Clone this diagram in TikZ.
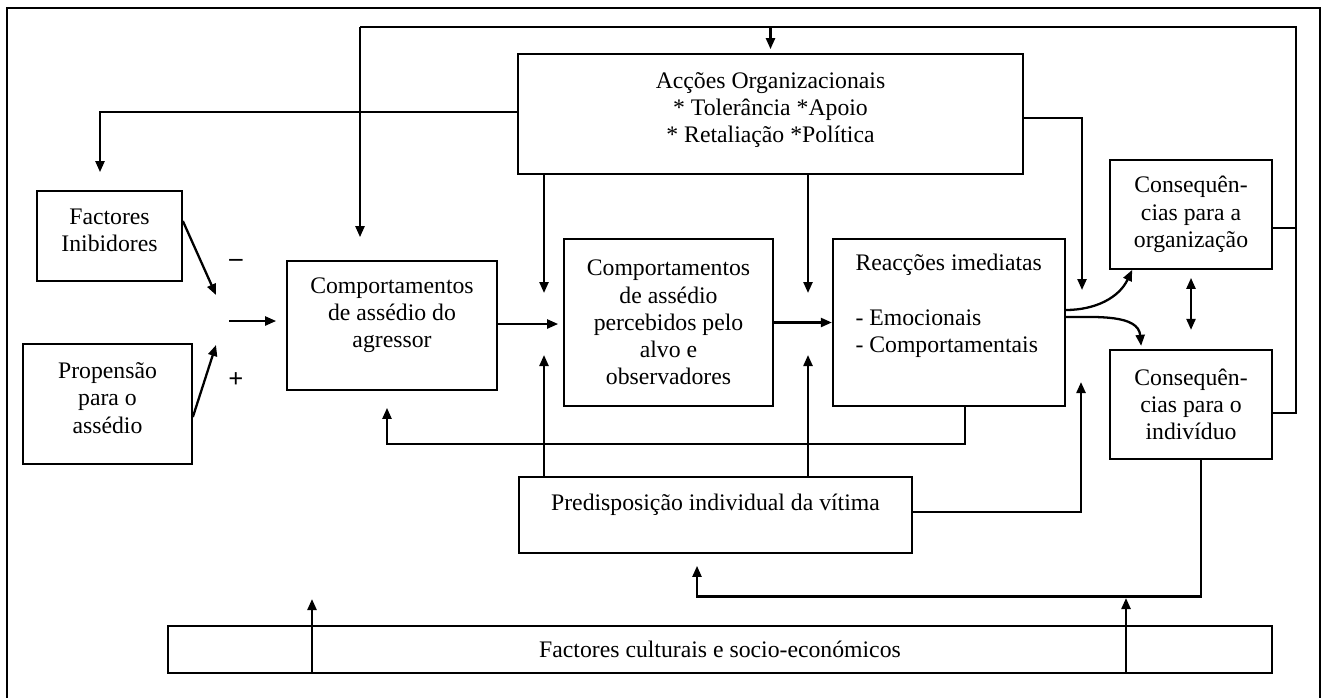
\documentclass[tikz,border=0pt]{standalone}
\usepackage{fontspec}
\setmainfont{Liberation Serif}
\usetikzlibrary{arrows.meta,positioning}

\begin{document}
\begin{tikzpicture}[
    x=0.02cm, y=-0.02cm,
    font=\fontsize{13.5}{15.5}\selectfont,
    box/.style={rectangle, draw, line width=1pt, align=center, inner sep=2pt},
    arrow/.style={line width=1.3pt, ->, >={Triangle[length=2.2mm, width=1.8mm]}},
    link/.style={line width=1.3pt},
    sign/.style={font=\fontsize{15}{17}\selectfont\bfseries, inner sep=0pt}
  ]

  \useasboundingbox (0,0) rectangle (1324,697);
  \draw[line width=1pt] (7,8) rectangle (1320,712);

  % Organizational actions (top)
  \node[box, minimum width=10.1cm, minimum height=2.4cm, text depth=7.5pt] (acoes) at (770.5,114)
    {Acções Organizacionais\\ * Tolerância *Apoio\\ * Retaliação *Política};

  % Antecedents (left side)
  \node[box, minimum width=2.9cm, minimum height=1.8cm, text depth=7pt] (inib) at (109.5,236) {Factores\\ Inibidores};
  \node[box, minimum width=3.38cm, minimum height=2.4cm, text depth=7pt] (prop) at (107.5,404) {Propensão\\ para o\\ assédio};

  % Main chain
  \node[box, minimum width=4.2cm, minimum height=2.58cm, text depth=14.8pt] (agressor) at (392,325.5)
    {Comportamentos\\ de assédio do\\ agressor};
  \node[box, minimum width=4.18cm, minimum height=3.34cm] (percebidos) at (668.5,322.5)
    {Comportamentos\\ de assédio\\ percebidos pelo\\ alvo e\\ observadores};
  \node[box, align=left, minimum width=4.64cm, minimum height=3.34cm, text depth=21.6pt, right=1.16cm of percebidos] (reac)
    {Reacções imediatas\\[15.5pt] - Emocionais\\ - Comportamentais};

  % Consequences (right side)
  \node[box, minimum width=3.24cm, minimum height=2.18cm] (consOrg) at (1191,214.5) {Consequên-\\ cias para a\\ organização};
  \node[box, minimum width=3.24cm, minimum height=2.18cm, below=1.58cm of consOrg] (consInd) {Consequên-\\ cias para o\\ indivíduo};

  % Victim and context (bottom)
  \node[box, minimum width=7.86cm, minimum height=1.52cm, text depth=15pt] (predisp) at (715.5,515)
    {Predisposição individual da vítima};
  \node[box, minimum width=22.08cm, minimum height=0.94cm] (cult) at (720,649.5)
    {Factores culturais e socio-económicos};

  % Signs
  \node[sign] (minus) at (236,263) {--};
  \node[sign] (plus) at (236,380) {+};

  % Free ends of connectors
  \coordinate (loopNE) at (1296,27);
  \coordinate (loopNW) at (360,27);
  \coordinate (sumTop) at (216,295);
  \coordinate (sumBot) at (216,345);
  \coordinate (sumOut) at (229,321);
  \coordinate (inA) at (544,293);
  \coordinate (inB) at (808,293);
  \coordinate (upA) at (544,355);
  \coordinate (upB) at (808,355);
  \coordinate (inRight) at (1082,290);
  \coordinate (upRight) at (1081,382);
  \coordinate (cultA) at (312,599);
  \coordinate (cultB) at (1126,598);

  % Feedback loop from the consequences
  \draw[link] ([yshift=-0.17cm]consInd.east) -| (loopNE) -- (loopNW);
  \draw[link] ([yshift=-0.27cm]consOrg.east) -- ++(0.48cm,0);
  \draw[arrow, shorten >=0.46cm] (loopNW) -- (loopNW |- agressor.north);
  \draw[arrow, shorten >=0.08cm] (acoes.north |- loopNE) -- (acoes.north);

  % Arrows from the organizational actions
  \draw[arrow, shorten >=0.36cm] ([yshift=0.04cm]acoes.west) -| ([xshift=-0.19cm]inib.north);
  \draw[arrow] ([yshift=-0.08cm]acoes.east) -| (inRight);
  \draw[arrow] (acoes.south -| inA) -- (inA);
  \draw[arrow] (acoes.south -| inB) -- (inB);

  % Antecedents into the aggressor
  \draw[arrow] ([yshift=0.3cm]inib.east) -- (sumTop);
  \draw[arrow] ([yshift=-0.26cm]prop.east) -- (sumBot);
  \draw[arrow, shorten >=0.2cm] (sumOut) -- (sumOut -| agressor.west);

  % Main chain arrows
  \draw[arrow, shorten >=0.1cm] ([yshift=0.03cm]agressor.east) -- ([yshift=0.03cm]agressor.east -| percebidos.west);
  \draw[arrow] (percebidos) -- (reac);
  \draw[arrow] ([yshift=0.25cm]reac.east) to[out=0, in=-115] ([xshift=0.46cm]consOrg.south west);
  \draw[arrow] ([yshift=0.11cm]reac.east) to[out=0, in=95] ([xshift=0.64cm, yshift=0.06cm]consInd.north west);
  \draw[arrow, <->, shorten <=0.16cm, shorten >=0.38cm] (consOrg.south) -- (consInd.north);

  % Feedback from the reactions
  \draw[arrow, shorten >=0.34cm] ([xshift=0.32cm]reac.south) -- ++(0,-0.74cm) -| ([xshift=-0.1cm]agressor.south);

  % Predisposition of the victim
  \draw[arrow] (predisp.north -| upA) -- (upA);
  \draw[arrow] (predisp.north -| upB) -- (upB);
  \draw[arrow] ([yshift=0.06cm]predisp.east) -| (upRight);
  \draw[arrow, shorten >=0.24cm] ([xshift=0.2cm]consInd.south) -- ++(0,-2.74cm) -| ([xshift=-0.37cm]predisp.south);

  % Cultural factors
  \draw[arrow] (cult.south -| cultA) -- (cultA);
  \draw[arrow] (cult.south -| cultB) -- (cultB);

\end{tikzpicture}
\end{document}
